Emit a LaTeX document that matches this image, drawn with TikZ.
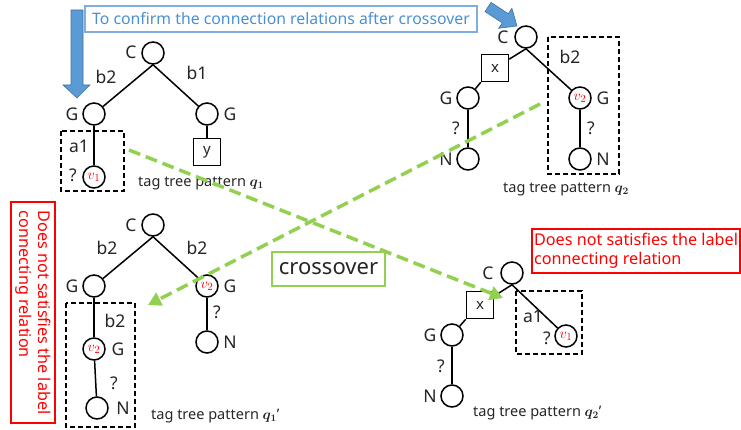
\documentclass[tikz,border=0pt]{standalone}
\usepackage{amsmath,amssymb}
\usepackage{bm}
\usepackage{fontspec}
\setmainfont{Noto Sans}
\usetikzlibrary{arrows.meta}
\definecolor{ink}{HTML}{262626}
\definecolor{bluefill}{HTML}{5B9BD5}
\definecolor{blueline}{HTML}{41719C}
\definecolor{bluetext}{HTML}{4A8FD4}
\definecolor{blueframe}{HTML}{7FAEDD}
\definecolor{grn}{HTML}{92D050}
\definecolor{redc}{HTML}{FF0000}
\tikzset{
  vtx/.style={circle, draw=black, line width=1.5pt, minimum size=22pt, inner sep=0pt},
  sqbox/.style={rectangle, draw=black, line width=1.5pt, minimum size=27pt, inner sep=0pt, font=\fontsize{15}{15}\selectfont, text=ink},
  lbl/.style={inner sep=0pt, text=ink, font=\fontsize{17.5}{17.5}\selectfont},
  vlab/.style={text=redc, font=\fontsize{15}{15}\selectfont},
  tagt/.style={inner sep=0pt, anchor=west, text=ink, font=\fontsize{14.5}{14.5}\selectfont},
  edge/.style={line width=1.5pt, black},
  dbox/.style={draw=black, line width=1.4pt, dash pattern=on 5pt off 3pt},
  garrow/.style={draw=grn, line width=3.5pt, dash pattern=on 12pt off 6pt, -{Triangle[length=13pt,width=14pt]}},
  barrow/.style={fill=bluefill, draw=blueline, line width=0.6pt},
  redbox/.style={draw=redc, line width=1.5pt, text=redc, font=\fontsize{16.2}{19}\selectfont, align=left, inner sep=2pt}
}
\begin{document}
\begin{tikzpicture}[x=1pt,y=-1pt]
\useasboundingbox (0,0) rectangle (741,430);

% blue guide arrows
\filldraw[barrow] (71,10) -- (83,10) -- (83,85) -- (90,85) -- (77,98) -- (63,85) -- (71,85) -- cycle;
\filldraw[barrow] (491,2.4) -- (508.3,13.7) -- (511.9,8.3) -- (517,26) -- (498.7,28.3) -- (502.3,22.9) -- (485,11.6) -- cycle;
\node[draw=blueframe, line width=1.5pt, text=bluetext, font=\fontsize{15.8}{15.8}\selectfont, minimum width=392pt, minimum height=26pt, inner sep=2pt] (note) at (281,19) {To confirm the connection relations after crossover};

% ---------- tree q1 ----------
\node[vtx] (a0) at (153,53) {};
\node[vtx] (a1) at (94,114) {};
\node[vtx] (a2) at (207,114) {};
\node[sqbox] (ay) at (207,152) {y};
\node[vtx] (av) at (94,177) {};
\node[vlab] (avl) at (av) {$v_1$};
\draw[edge] (a0.south) -- (a1);
\draw[edge] (a0.south) -- (a2);
\draw[edge] (a2) -- (ay);
\draw[edge] (a1) -- (av);
\draw[dbox] (61,131) rectangle (124,191);
\node[lbl] (aC) at (131,52) {C};
\node[lbl] (ab2) at (106,77) {b2};
\node[lbl] (ab1) at (197,73) {b1};
\node[lbl] (aG1) at (72,114) {G};
\node[lbl] (aG2) at (230,114) {G};
\node[lbl] (aa1) at (79,146) {a1};
\node[lbl] (aq) at (73,175) {?};
\node[tagt] (atag) at (138,183) {tag tree pattern $\bm{q_1}$};

% ---------- tree q2 ----------
\node[vtx] (b0) at (526,37) {};
\node[sqbox] (bx) at (495,68) {x};
\node[vtx] (b1) at (468,98) {};
\node[vtx] (bN1) at (468,159) {};
\node[vtx] (b2) at (580,98) {};
\node[vlab] (b2l) at (b2) {$v_2$};
\node[vtx] (bN2) at (580,159) {};
\draw[edge] (b0.south) -- (bx);
\draw[edge] (bx.south west) -- (b1);
\draw[edge] (b1) -- (bN1);
\draw[edge] (b0.south) -- (b2);
\draw[edge] (b2) -- (bN2);
\draw[dbox] (548,37) rectangle (619,174);
\node[lbl] (bC) at (503,37) {C};
\node[lbl] (bb2) at (570,57) {b2};
\node[lbl] (bG1) at (446,98) {G};
\node[lbl] (bG2) at (603,98) {G};
\node[lbl] (bq1) at (456,128) {?};
\node[lbl] (bq2) at (591,128) {?};
\node[lbl] (bN1l) at (446,159) {N};
\node[lbl] (bN2l) at (603,159) {N};
\node[tagt] (btag) at (503,189) {tag tree pattern $\bm{q_2}$};

% ---------- tree q1' ----------
\node[vtx] (c0) at (153,225) {};
\node[vtx] (c1) at (94,286) {};
\node[vtx] (c2) at (207,286) {};
\node[vlab] (c2l) at (c2) {$v_2$};
\node[vtx] (cN2) at (207,342) {};
\node[vtx] (c3) at (94,349) {};
\node[vlab] (c3l) at (c3) {$v_2$};
\node[vtx] (cN3) at (97,408) {};
\draw[edge] (c0.south) -- (c1);
\draw[edge] (c0.south) -- (c2);
\draw[edge] (c2) -- (cN2);
\draw[edge] (c1) -- (c3);
\draw[edge] (c3) -- (cN3);
\draw[dbox] (66,303) rectangle (135,427);
\node[lbl] (cC) at (131,225) {C};
\node[lbl] (cb2a) at (107,248) {b2};
\node[lbl] (cb2b) at (197,248) {b2};
\node[lbl] (cG1) at (72,286) {G};
\node[lbl] (cG2) at (230,286) {G};
\node[lbl] (cq2) at (217,312) {?};
\node[lbl] (cN2l) at (230,342) {N};
\node[lbl] (cb2c) at (115,321) {b2};
\node[lbl] (cG3) at (118,349) {G};
\node[lbl] (cq3) at (114,383) {?};
\node[lbl] (cN3l) at (123,408) {N};
\node[tagt] (ctag) at (151,416) {tag tree pattern $\bm{q_1}$'};

% ---------- tree q2' ----------
\node[vtx] (d0) at (512,273) {};
\node[sqbox] (dx) at (480,305) {x};
\node[vtx] (d1) at (452,335) {};
\node[vtx] (dN) at (452,396) {};
\node[vtx] (dv) at (566,336) {};
\node[vlab] (dvl) at (dv) {$v_1$};
\draw[edge] (d0.south) -- (dx);
\draw[edge] (dx.south west) -- (d1);
\draw[edge] (d1) -- (dN);
\draw[edge] (d0.south) -- (dv);
\draw[dbox] (516,291) rectangle (582,354);
\node[lbl] (dC) at (488,273) {C};
\node[lbl] (dG) at (430,335) {G};
\node[lbl] (dq) at (441,366) {?};
\node[lbl] (dNl) at (430,396) {N};
\node[lbl] (da1) at (533,316) {a1};
\node[lbl] (dq2) at (547,338) {?};
\node[tagt] (dtag) at (473,413) {tag tree pattern $\bm{q_2}$'};

% ---------- crossover ----------
\coordinate (g1s) at (129,150);
\coordinate (g1e) at (503,298);
\coordinate (g2s) at (540,104);
\coordinate (g2e) at (148,305);
\draw[garrow] (g1s) -- (g1e);
\draw[garrow] (g2s) -- (g2e);
\node[draw=grn, fill=white, line width=1.5pt, minimum width=113pt, minimum height=34pt, inner sep=0pt, text=ink, font=\fontsize{22}{22}\selectfont] (cross) at (328.5,269) {crossover};

% ---------- red notes ----------
\node[redbox, rotate=-90, minimum width=221pt, minimum height=44pt] (rnote1) at (33,312.5) {Does not satisfies the label\\connecting relation};
\node[redbox, minimum width=208pt, minimum height=44pt] (rnote2) at (636,251) {Does not satisfies the label\\connecting relation};
\end{tikzpicture}
\end{document}
